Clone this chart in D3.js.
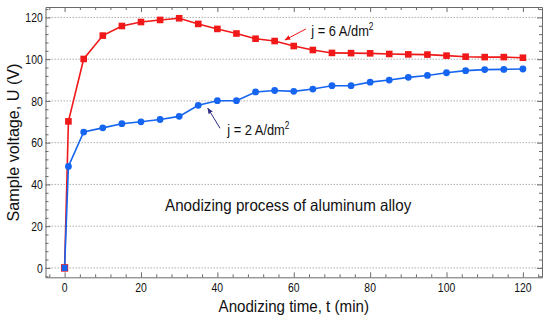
<!DOCTYPE html>
<html>
<head>
<meta charset="utf-8">
<script src="https://cdn.jsdelivr.net/npm/d3@7"></script>
<style>
  body { margin: 0; background: #fff; }
  text { font-family: "Liberation Sans", Arial, sans-serif; fill: #111; }
</style>
</head>
<body>
<div id="chart"></div>
<script>
var svgWidth = 550;
var svgHeight = 323;

// data
var times = [0, 1, 5, 10, 15, 20, 25, 30, 35, 40, 45, 50, 55, 60, 65, 70, 75, 80, 85, 90, 95, 100, 105, 110, 115, 120];
var voltage6 = [0, 70.2, 100.1, 111.3, 115.9, 117.8, 118.8, 119.6, 116.9, 114.5, 112.3, 109.8, 108.7, 106.3, 104.4, 103.0, 102.9, 102.8, 102.5, 102.3, 102.2, 101.7, 101.2, 101.0, 101.0, 100.7];
var voltage2 = [0, 48.6, 65.1, 67.1, 69.1, 70.0, 71.1, 72.6, 77.9, 80.1, 80.1, 84.3, 85.0, 84.6, 85.7, 87.3, 87.3, 89.0, 90.0, 91.3, 92.2, 93.5, 94.5, 95.0, 95.1, 95.3];
var xTicks = [0, 20, 40, 60, 80, 100, 120];
var yTicks = [0, 20, 40, 60, 80, 100, 120];

var plot = { left: 45.5, right: 542, top: 7, bottom: 277.3 };

var svg = d3.select("#chart")
    .append("svg")
    .attr("width", svgWidth)
    .attr("height", svgHeight);

var x = d3.scaleLinear().domain([-5, 125]).range([plot.left, plot.right]);
var y = d3.scaleLinear().domain([-4.5, 125]).range([plot.bottom, plot.top]);

var minorX = d3.range(-4, 125, 4).filter(d => xTicks.indexOf(d) < 0);
var minorY = d3.range(-4, 125, 4).filter(d => yTicks.indexOf(d) < 0);

// squashed text helper (the original font is narrow)
function label(parent, px, py, str, size, sx, anchor, rot) {
    var g = parent.append("g")
        .attr("transform", `translate(${px},${py}) rotate(${rot || 0}) scale(${sx},1)`);
    var t = g.append("text")
        .attr("text-anchor", anchor || "start")
        .attr("font-size", size);
    return t.text(str);
}

// dotted horizontal grid
svg.append("g")
    .selectAll("line")
    .data(yTicks)
    .enter()
    .append("line")
    .attr("x1", plot.left).attr("x2", plot.right)
    .attr("y1", d => y(d)).attr("y2", d => y(d))
    .attr("stroke", "#b0b0b0")
    .attr("stroke-width", 1)
    .attr("stroke-dasharray", "1.5,1.5");

// frame with inward ticks
var frameColor = "#6a6a6a";
function ticks(axis, pos, values, len) {
    return axis(pos).tickValues(values).tickSize(len).tickFormat("");
}
var axes = [
    [d3.axisTop, x, `translate(0,${plot.bottom})`],
    [d3.axisBottom, x, `translate(0,${plot.top})`],
    [d3.axisRight, y, `translate(${plot.left},0)`],
    [d3.axisLeft, y, `translate(${plot.right},0)`]
];
axes.forEach(function (a) {
    var isX = a[1] === x;
    svg.append("g").attr("transform", a[2])
        .call(ticks(a[0], a[1], isX ? xTicks : yTicks, 5).tickSizeOuter(0))
        .call(g => g.selectAll("line").attr("stroke", frameColor))
        .call(g => g.select(".domain").attr("stroke", frameColor));
    svg.append("g").attr("transform", a[2])
        .call(ticks(a[0], a[1], isX ? minorX : minorY, 3).tickSizeOuter(0))
        .call(g => g.selectAll("line").attr("stroke", frameColor))
        .call(g => g.select(".domain").remove());
});

// tick labels
var tickLabels = svg.append("g");
xTicks.forEach(function (d) {
    label(tickLabels, x(d), 292, d, 13, 0.8, "middle");
});
yTicks.forEach(function (d) {
    label(tickLabels, 42.7, y(d) + 4.6, d, 13, 0.8, "end");
});

// axis titles
label(svg, x(60), 312, "Anodizing time, t (min)", 17, 0.89, "middle");
label(svg, 19.3, 142.5, "Sample voltage, U (V)", 17, 0.95, "middle", -90);

// series
var red = "#f01818";
var blue = "#1565f0";

var line = d3.line()
    .x(d => x(d[0]))
    .y(d => y(d[1]));

var s6 = times.map((t, i) => [t, voltage6[i]]);
var s2 = times.map((t, i) => [t, voltage2[i]]);

svg.append("path").datum(s6)
    .attr("d", line).attr("fill", "none")
    .attr("stroke", red).attr("stroke-width", 1.6);
svg.append("g").selectAll("rect")
    .data(s6).enter().append("rect")
    .attr("x", d => x(d[0]) - 3.3)
    .attr("y", d => y(d[1]) - 3.3)
    .attr("width", 6.6).attr("height", 6.6)
    .attr("fill", red);

svg.append("path").datum(s2)
    .attr("d", line).attr("fill", "none")
    .attr("stroke", blue).attr("stroke-width", 1.6);
svg.append("g").selectAll("circle")
    .data(s2.slice(1)).enter().append("circle")
    .attr("cx", d => x(d[0]))
    .attr("cy", d => y(d[1]))
    .attr("r", 3.4)
    .attr("fill", blue);
svg.append("rect")
    .attr("x", x(s2[0][0]) - 3.3).attr("y", y(s2[0][1]) - 3.3)
    .attr("width", 6.6).attr("height", 6.6)
    .attr("fill", blue).attr("stroke", red).attr("stroke-width", 0.6);

// arrows + annotations
var defs = svg.append("defs");
function arrowMarker(id, color) {
    defs.append("marker")
        .attr("id", id)
        .attr("viewBox", "0 0 10 10")
        .attr("refX", 9).attr("refY", 5)
        .attr("markerWidth", 6).attr("markerHeight", 6)
        .attr("orient", "auto")
        .append("path")
        .attr("d", "M0,1 L10,5 L0,9 z")
        .attr("fill", color);
}
arrowMarker("arrRed", red);
arrowMarker("arrNavy", "#2e2e86");

svg.append("line")
    .attr("x1", x(63.2)).attr("y1", y(114.5))
    .attr("x2", x(57.7)).attr("y2", y(109.2))
    .attr("stroke", red).attr("stroke-width", 1)
    .attr("marker-end", "url(#arrRed)");
svg.append("line")
    .attr("x1", x(40.7)).attr("y1", y(66.9))
    .attr("x2", x(37.5)).attr("y2", y(76.5))
    .attr("stroke", "#2e2e86").attr("stroke-width", 1)
    .attr("marker-end", "url(#arrNavy)");

function annotation(t, u, str) {
    var txt = label(svg, x(t), y(u), str, 15.5, 0.83, "start");
    txt.append("tspan").attr("dy", -6).attr("font-size", 10).text("2");
}
annotation(64.6, 111.3, "j = 6 A/dm");
annotation(42.6, 63.7, "j = 2 A/dm");

label(svg, x(26.3), y(27.4), "Anodizing process of aluminum alloy", 16.5, 0.92, "start");
</script>
</body>
</html>
